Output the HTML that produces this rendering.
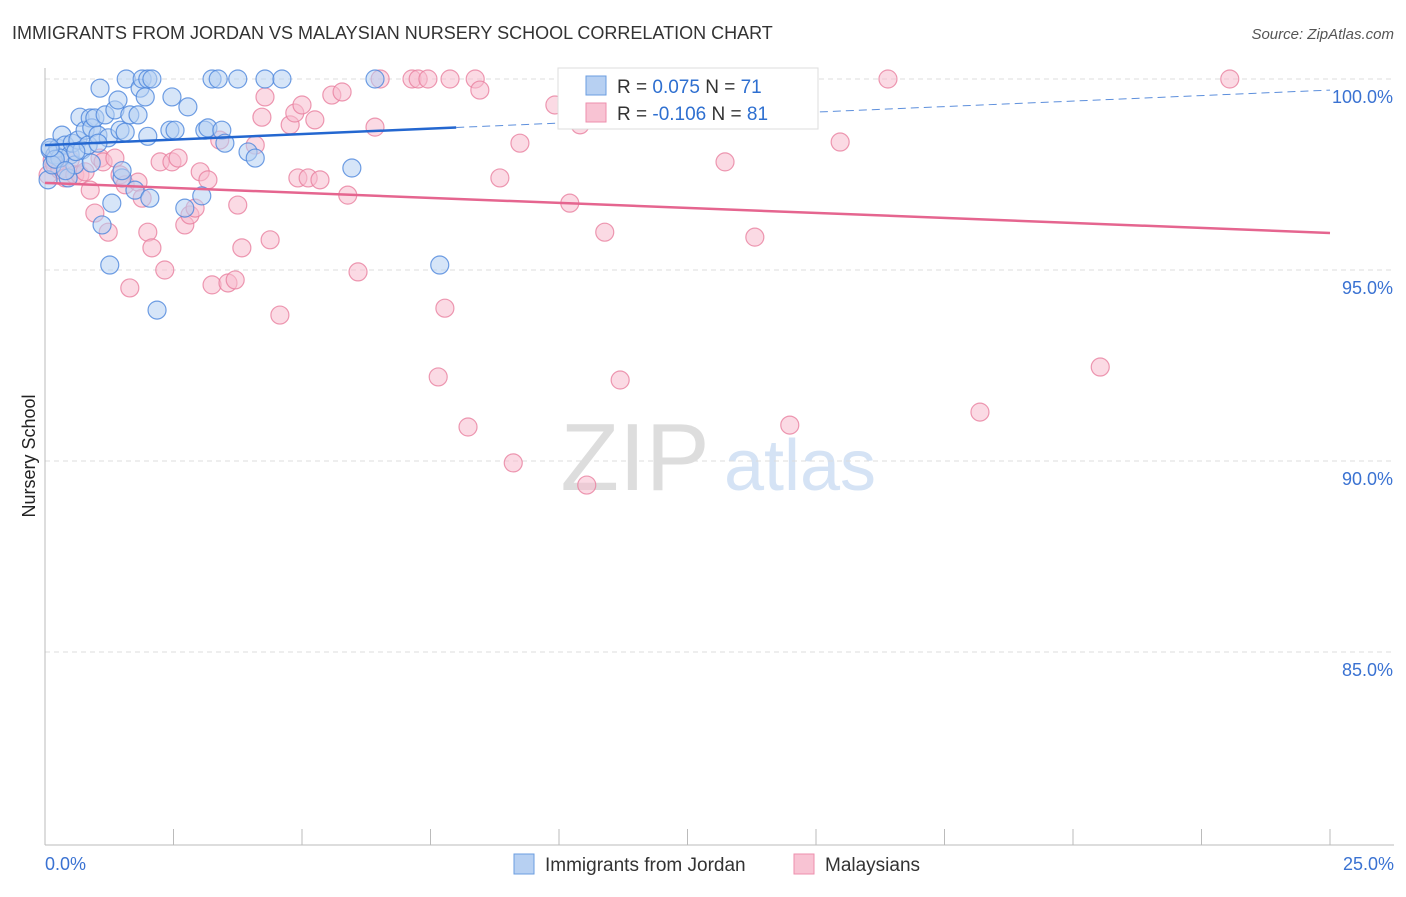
<!DOCTYPE html>
<html><head><meta charset="utf-8"><style>
body{margin:0;background:#fff;font-family:"Liberation Sans",sans-serif;}
svg text{font-family:"Liberation Sans",sans-serif;}
</style></head><body>
<svg id="c" width="1406" height="892" viewBox="0 0 1406 892">
<text x="12" y="39" font-size="18" fill="#333">IMMIGRANTS FROM JORDAN VS MALAYSIAN NURSERY SCHOOL CORRELATION CHART</text>
<text x="1394" y="39" font-size="15" fill="#555" font-style="italic" text-anchor="end">Source: ZipAtlas.com</text>
<text x="35" y="456" font-size="18" fill="#222" transform="rotate(-90 35 456)" text-anchor="middle">Nursery School</text>
<g><text x="635" y="490" font-size="96" fill="#ddd" font-family="Liberation Serif" text-anchor="middle">ZIP</text><text x="800" y="490" font-size="72" fill="#d5e3f5" text-anchor="middle">atlas</text></g>
<g id="grid"></g><g id="axes"></g><g id="pts"></g><g id="trends"></g>
<g>
<rect x="558" y="68" width="260" height="61" fill="#fff" stroke="#ddd"/>
<rect x="586" y="76" width="20" height="19" fill="#b7d0f2" stroke="#6b9ee0"/>
<rect x="586" y="103" width="20" height="19" fill="#f8c3d3" stroke="#ee8fae"/>
<text x="617" y="93" font-size="19" fill="#333">R = <tspan fill="#2e6fd0">0.075</tspan>   N = <tspan fill="#2e6fd0">71</tspan></text>
<text x="617" y="120" font-size="19" fill="#333">R = <tspan fill="#2e6fd0">-0.106</tspan>   N = <tspan fill="#2e6fd0">81</tspan></text>
</g>
<g>
<rect x="514" y="854" width="20" height="20" fill="#b7d0f2" stroke="#6b9ee0"/>
<text x="545" y="871" font-size="19" fill="#333">Immigrants from Jordan</text>
<rect x="794" y="854" width="20" height="20" fill="#f8c3d3" stroke="#ee8fae"/>
<text x="825" y="871" font-size="19" fill="#333">Malaysians</text>
</g>
</svg>
<script>
const blueX=[0.06,0.1,0.19,0.25,0.33,0.39,0.45,0.49,0.53,0.58,0.64,0.68,0.72,0.78,0.84,0.88,0.91,0.97,1.03,1.07,1.11,1.17,1.23,1.26,1.3,1.36,1.42,1.46,1.5,1.56,1.58,1.65,1.75,1.81,1.85,1.89,1.95,2.0,2.04,2.08,2.18,2.43,2.47,2.53,2.72,2.78,3.05,3.11,3.17,3.25,3.37,3.44,3.5,3.75,3.95,4.09,4.28,4.61,5.97,6.42,7.68,0.29,0.14,1.03,0.2,0.4,0.1,0.6,0.9,1.5,2.0];
const blueY=[97.36,98.14,98.01,98.19,98.53,98.27,97.41,98.01,98.32,97.75,98.4,99.0,98.14,98.66,98.27,98.98,98.72,98.98,98.53,99.76,96.18,99.06,98.46,95.13,96.75,99.19,99.45,98.66,97.41,98.61,100,99.06,97.09,99.06,99.76,100,99.53,100,96.88,100,93.95,98.66,99.53,98.66,96.62,99.27,96.94,98.66,98.72,100,100,98.66,98.32,100,98.09,97.93,100,100,97.67,100,95.13,97.93,97.75,98.32,97.9,97.6,98.2,98.1,97.8,97.6,98.5];
const pinkX=[0.06,0.14,0.19,0.29,0.39,0.49,0.58,0.68,0.78,0.88,0.97,1.07,1.13,1.23,1.36,1.46,1.56,1.65,1.81,1.89,2.0,2.08,2.24,2.33,2.47,2.59,2.72,2.82,2.92,3.02,3.17,3.25,3.4,3.56,3.7,3.75,3.83,4.09,4.22,4.28,4.38,4.57,4.77,4.86,4.92,5.0,5.12,5.25,5.35,5.58,5.78,5.89,6.09,6.42,6.52,7.14,7.26,7.45,7.65,7.78,7.88,8.23,8.37,8.46,8.85,9.11,9.24,9.92,10.21,10.31,10.41,10.54,10.89,11.19,11.48,13.23,13.81,14.49,15.47,16.4,18.19,20.53,23.05];
const pinkY=[97.49,97.88,97.75,97.62,97.41,97.88,97.49,97.49,97.57,97.09,96.49,97.93,97.83,95.99,97.93,97.49,97.23,94.53,97.3,96.88,95.99,95.58,97.83,95.0,97.83,97.93,96.18,96.44,96.62,97.57,97.36,94.61,98.4,94.66,94.74,96.7,95.58,98.27,99.0,99.53,95.79,93.82,98.8,99.11,97.41,99.32,97.41,98.93,97.36,99.58,99.66,96.96,94.95,98.74,100,100,100,100,92.2,94.0,100,90.89,100,99.71,97.41,89.95,98.32,99.32,96.75,99.27,98.8,89.37,95.99,92.12,100,97.83,95.86,90.94,98.35,100,91.28,92.46,100];
const blueTrend=[98.27,99.71];
const pinkTrend=[97.28,95.97];
const yTicks=[100,95,90,85];
const yTickLabels=["100.0%","95.0%","90.0%","85.0%"];
const xTickLabels=["0.0%","25.0%"];
const NS="http://www.w3.org/2000/svg";
const sx=v=>45+v*(1285/25);
const sy=v=>79+(100-v)*38.2;
function mk(t,a,p){const e=document.createElementNS(NS,t);for(const k in a)e.setAttribute(k,a[k]);p.appendChild(e);return e;}
const grid=document.getElementById('grid'),axes=document.getElementById('axes'),pts=document.getElementById('pts'),tr=document.getElementById('trends');
yTicks.forEach((v,i)=>{
 const l=mk('line',{x1:45,x2:1394,y1:sy(v),y2:sy(v),stroke:'#ddd','stroke-dasharray':'5,4'},grid);
 
 
 const t=mk('text',{x:1393,y:sy(v)+24,'font-size':18,fill:'#3a72d2','text-anchor':'end'},axes);
 t.textContent=yTickLabels[i];
 
 
});
const ya=mk('line',{x1:45,x2:45,y1:68,y2:845,stroke:'#bbb'},axes);


const xa=mk('line',{x1:45,x2:1394,y1:845,y2:845,stroke:'#bbb'},axes);


for(let i=0;i<=10;i++){const tk=mk('line',{x1:sx(i*2.5),x2:sx(i*2.5),y1:829,y2:845,stroke:'#bbb'},axes);
 
 }
[[0,'start'],[25,'end']].forEach((p,i)=>{const t=mk('text',{x:i?1394:45,y:870,'font-size':18,fill:'#3a72d2','text-anchor':p[1]},axes);t.textContent=xTickLabels[i];
 
 });
function dots(X,Y,f,s,name){X.forEach((x,i)=>{const c=mk('circle',{cx:sx(x),cy:sy(Y[i]),r:9,fill:f,'fill-opacity':0.55,stroke:s,'stroke-opacity':0.8,'stroke-width':1.2},pts);
 
 });}
dots(pinkX,pinkY,'#f7bccd','#e9809f','point-malaysians');
dots(blueX,blueY,'#b5cff2','#4c86dc','point-jordan');
const bAt=x=>blueTrend[0]+(blueTrend[1]-blueTrend[0])*x/25;
const b1=mk('line',{x1:sx(0),y1:sy(bAt(0)),x2:sx(8),y2:sy(bAt(8)),stroke:'#2467d0','stroke-width':2.5},tr);


const b2=mk('line',{x1:sx(8),y1:sy(bAt(8)),x2:sx(25),y2:sy(bAt(25)),stroke:'#5d8fdc','stroke-width':1,'stroke-dasharray':'8,5'},tr);


const p1=mk('line',{x1:sx(0),y1:sy(pinkTrend[0]),x2:sx(25),y2:sy(pinkTrend[1]),stroke:'#e5658f','stroke-width':2.5},tr);


</script>
</body></html>
